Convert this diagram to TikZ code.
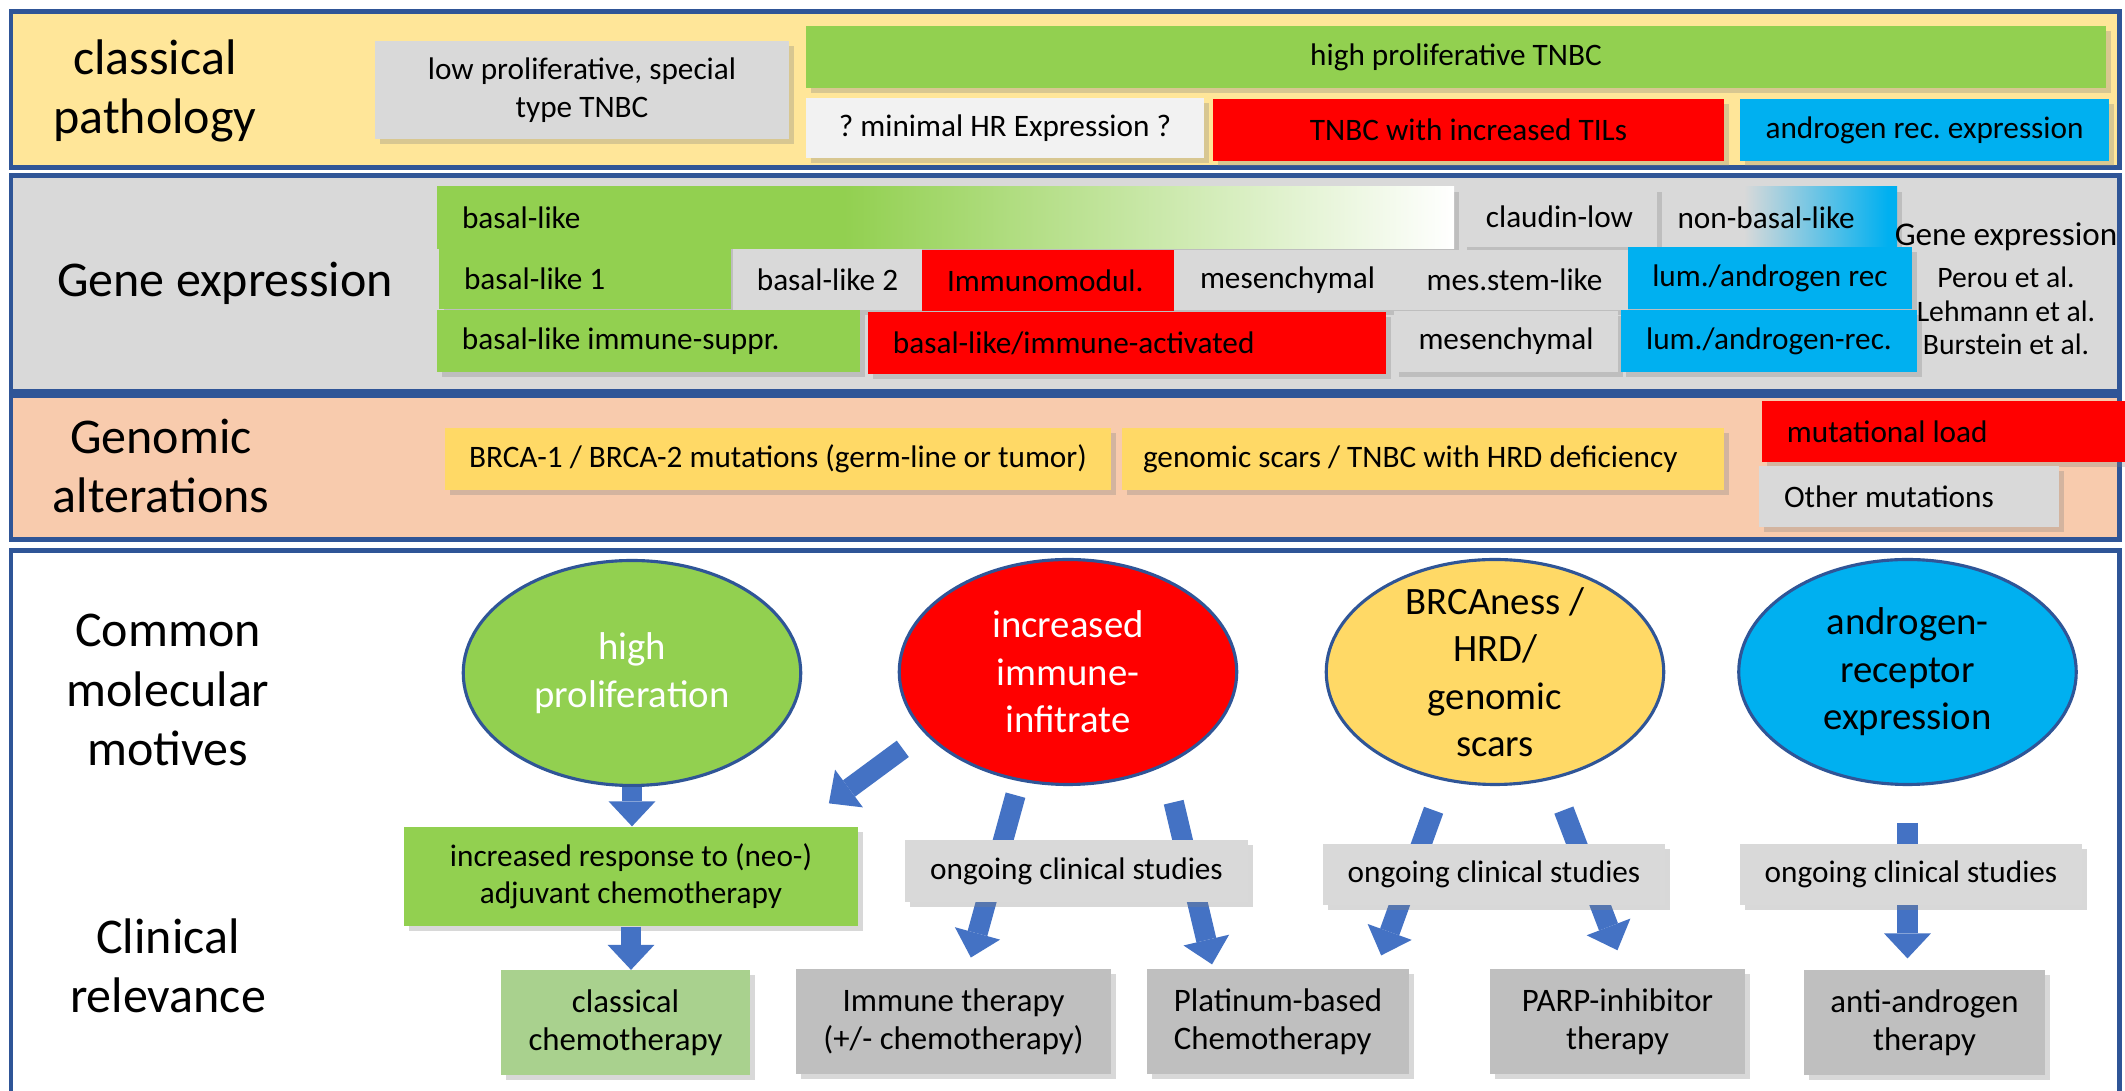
\documentclass[tikz,border=0pt]{standalone}
\usepackage{fontspec}
\setmainfont{Carlito}
\frenchspacing
\usetikzlibrary{shapes.geometric,arrows.meta,shadows}
\definecolor{pan_blue}{RGB}{47,85,151}
\definecolor{arr_blue}{RGB}{68,114,196}
\definecolor{pan_yellow}{RGB}{255,230,153}
\definecolor{pan_peach}{RGB}{248,203,173}
\definecolor{tnbc_green}{RGB}{146,208,80}
\definecolor{tnbc_lgreen}{RGB}{169,209,142}
\definecolor{tnbc_red}{RGB}{255,0,0}
\definecolor{tnbc_blue}{RGB}{0,176,240}
\definecolor{tnbc_gold}{RGB}{255,217,102}
\definecolor{tnbc_gray}{RGB}{217,217,217}
\definecolor{tnbc_dgray}{RGB}{191,191,191}
\definecolor{tnbc_white}{RGB}{242,242,242}
\pgfdeclarehorizontalshading{basalfade}{100bp}{color(0bp)=(tnbc_green); color(45bp)=(tnbc_green); color(75bp)=(white); color(100bp)=(white)}
\pgfdeclarehorizontalshading{nonbasalfade}{100bp}{color(0bp)=(tnbc_gray); color(42bp)=(tnbc_gray); color(73bp)=(tnbc_blue); color(100bp)=(tnbc_blue)}

\begin{document}
\begin{tikzpicture}[x=0.32pt, y=-0.32pt,
    panel/.style={draw=pan_blue, line width=1.6pt},
    title/.style={font=\fontsize{16}{19}\selectfont, align=center},
    tile/.style={inner sep=2pt, font=\fontsize{10}{12}\selectfont, align=center,
      drop shadow={shadow xshift=1.5pt, shadow yshift=-1.5pt, opacity=0.3}},
    ltile/.style={tile, align=flush left, inner xsep=8pt},
    dims/.style 2 args={minimum width=#1*0.32pt, minimum height=#2*0.32pt},
    motive/.style={ellipse, draw=pan_blue, line width=1pt, inner sep=-4pt,
      minimum width=108pt, minimum height=72pt,
      font=\fontsize{12.4}{15.2}\selectfont, align=center},
    therapy/.style={tile, fill=tnbc_dgray, font=\fontsize{10.5}{12.2}\selectfont},
    flow/.style={draw=arr_blue, line width=6.5pt,
      -{Triangle[width=15pt, length=8pt, line width=0pt]}},
  ]
  \useasboundingbox (0,0) rectangle (2125,1091);

  % panels
  \draw[panel, fill=pan_yellow] (11,12) rectangle (2119,168);
  \draw[panel, fill=tnbc_gray] (11,176) rectangle (2119,392);
  \draw[panel, fill=pan_peach] (11,396) rectangle (2119,540);
  \draw[panel, fill=white] (11,551) rectangle (2119,1100);

  % classical pathology
  \node[title] (ttl_path) at (155,91) {classical\\pathology};
  \node[tile, fill=tnbc_gray, dims={414}{98}] (lowprol) at (582,90) {low proliferative, special\\type TNBC};
  \node[tile, fill=tnbc_green, dims={1300}{62}] (highprol) at (1456,57) {high proliferative TNBC};
  \node[tile, fill=tnbc_white, dims={398}{60}] (minhr) at (1005,128) {? minimal HR Expression ?};
  \node[tile, fill=tnbc_red, dims={511}{62}] (tils) at (1468.5,130) {TNBC with increased TILs};
  \node[tile, fill=tnbc_blue, dims={369}{62}] (arexp) at (1924.5,130) {androgen rec. expression};

  % gene expression
  \node[title] (ttl_gene) at (225,283) {Gene expression};
  \node[ltile, shading=basalfade, text width=309.4pt, dims={1017}{61.5}] (basal) at (945.5,217.75) {basal-like};
  \node[tile, fill=tnbc_gray, dims={195}{60}] (claudin) at (1559.5,217) {claudin-low};
  \node[ltile, inner xsep=4pt, shading=nonbasalfade, text width=66.2pt, dims={232}{61}] (nonbasal) at (1781,217.5) {non-basal-like};
  \node[ltile, fill=tnbc_green, text width=77.4pt, dims={292}{60.5}] (bl1) at (585,278.75) {basal-like 1};
  \node[tile, fill=tnbc_gray, dims={189}{60.5}] (bl2) at (827.5,279.75) {basal-like 2};
  \node[ltile, fill=tnbc_red, text width=64.6pt, dims={252}{61}] (immod) at (1048,280.5) {Immunomodul.};
  \node[tile, fill=tnbc_gray, dims={227}{60}] (mes1) at (1287.5,280) {mesenchymal};
  \node[tile, fill=tnbc_gray, dims={227}{60}] (stem) at (1514.5,280) {mes.stem-like};
  \node[tile, fill=tnbc_blue, dims={284}{62}] (lum1) at (1770,278.5) {lum./androgen rec};
  \node[ltile, fill=tnbc_green, text width=119.4pt, dims={423}{62}] (bis) at (648.5,341) {basal-like immune-suppr.};
  \node[ltile, fill=tnbc_red, text width=149.8pt, dims={518}{62}] (bia) at (1127,343) {basal-like/immune-activated};
  \node[tile, fill=tnbc_gray, dims={224}{61}] (mes2) at (1506,341.5) {mesenchymal};
  \node[tile, fill=tnbc_blue, dims={296}{62}] (lum2) at (1769,341) {lum./androgen-rec.};
  \node[font=\fontsize{10.6}{12}\selectfont] (gelabel) at (2006,237) {Gene expression};
  \node[font=\fontsize{9.5}{10.7}\selectfont, align=center] (refs) at (2006,311) {Perou et al.\\Lehmann et al.\\Burstein et al.};

  % genomic alterations
  \node[title] (ttl_geno) at (161,466) {Genomic\\alterations};
  \node[tile, fill=tnbc_gold, dims={666}{62}] (brcamut) at (778,459) {BRCA-1 / BRCA-2 mutations (germ-line or tumor)};
  \node[ltile, inner xsep=6.7pt, fill=tnbc_gold, text width=179.2pt, dims={602}{62}] (scars) at (1423,459) {genomic scars / TNBC with HRD deficiency};
  \node[ltile, fill=tnbc_red, text width=101.8pt, dims={368}{61}] (mutload) at (1946,431.5) {mutational load};
  \node[ltile, fill=tnbc_gray, text width=80pt, dims={300}{61}] (othmut) at (1909,496.5) {Other mutations};

  % motives and clinical relevance
  \node[title] (ttl_mot) at (168,690) {Common\\molecular\\motives};
  \node[title] (ttl_clin) at (168,966) {Clinical\\relevance};
  \node[motive, fill=tnbc_green, text=white] (hp) at (632,673) {high\\proliferation};
  \node[motive, fill=tnbc_red, text=white] (inf) at (1068,672) {increased\\immune-\\infitrate};
  \node[motive, fill=tnbc_gold] (brca) at (1495,672) {BRCAness /\\HRD/\\genomic\\scars};
  \node[motive, fill=tnbc_blue] (andr) at (1907.5,672) {androgen-\\receptor\\expression};
  \node[tile, fill=tnbc_green, dims={454}{99}] (resp) at (631,876.5) {increased response to (neo-)\\adjuvant chemotherapy};
  \node[therapy, fill=tnbc_lgreen, dims={249}{104.5}] (cls) at (625.5,1022.75) {classical\\chemotherapy};
  \node[therapy, dims={315}{105}] (imm) at (953.5,1021.5) {Immune therapy\\(+/- chemotherapy)};
  \node[therapy, align=left, dims={262}{105}] (plat) at (1278,1021.5) {Platinum-based\\Chemotherapy};
  \node[therapy, dims={255}{105}] (parp) at (1617.5,1021.5) {PARP-inhibitor\\therapy};
  \node[therapy, dims={241}{105}] (anti) at (1924.5,1022.5) {anti-androgen\\therapy};

  \draw[flow] (hp.south) -- (hp.south |- resp.north);
  \draw[flow, shorten <=8.5pt, shorten >=12.4pt] (inf.203) -- ([xshift=-19.5pt]resp.north east);
  \draw[flow] (resp.south) -- (resp.south |- cls.north);
  \draw[flow, shorten <=4.6pt, shorten >=3.6pt] (inf.246) -- ([xshift=4.6pt]imm.north);
  \draw[flow, shorten <=12pt, shorten >=1.3pt] (inf.316) -- ([xshift=-20.8pt]plat.north);
  \draw[flow, shorten <=10pt, shorten >=4.4pt] (brca.245) -- ([xshift=-10.6pt]plat.north east);
  \draw[flow, shorten <=10.5pt, shorten >=6.2pt] (brca.298) -- ([xshift=2.2pt]parp.north);
  \draw[flow, shorten <=11.8pt, shorten >=3.5pt] (andr.south) -- (andr.south |- anti.north);

  % boxes lying over the arrows
  \node[tile, fill=tnbc_gray, dims={343}{62}] (ong1) at (1076.5,871) {ongoing clinical studies};
  \node[tile, fill=tnbc_gray, dims={342}{61}] (ong2) at (1494,874.5) {ongoing clinical studies};
  \node[tile, fill=tnbc_gray, dims={342}{61}] (ong3) at (1911,874.5) {ongoing clinical studies};
\end{tikzpicture}
\end{document}
